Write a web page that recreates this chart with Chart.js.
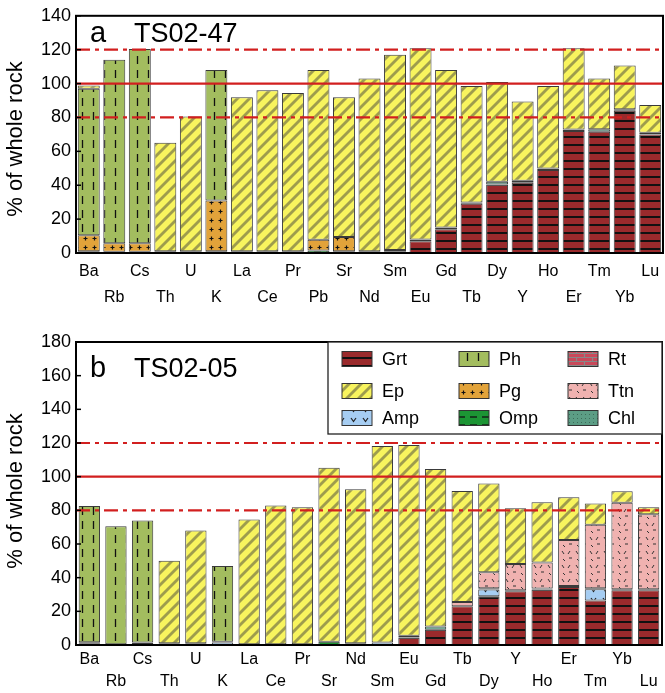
<!DOCTYPE html>
<html><head><meta charset="utf-8">
<script src="https://cdn.jsdelivr.net/npm/chart.js@4.4.1/dist/chart.umd.min.js"></script>
<style>
html,body{margin:0;padding:0;background:#fff;}
#wa{position:absolute;left:0;top:0;width:665px;height:310px;}
#wb{position:absolute;left:0;top:325px;width:665px;height:368px;}
</style></head><body>
<div id="wa"><canvas id="ca" width="665" height="310"></canvas></div>
<div id="wb"><canvas id="cb" width="665" height="368"></canvas></div>
<script>
// ---------- data ----------
const catsA = ['Ba','Rb','Cs','Th','U','K','La','Ce','Pr','Pb','Sr','Nd','Sm','Eu','Gd','Tb','Dy','Y','Ho','Er','Tm','Yb','Lu'];
const aGrt = [0,0,0,0,0,0,0,0,0,0,0,0,1,7,14,29,40.5,41.5,49,72,71.5,84,70];
const aOmp = [0,0,0,0,0,0,0,0,0,1.5,0,0,0,0,0,0,0,0,0,0,0,0,0];
const aAmp = [0,0,0,0,0,0,0,0,0,0,0,0,0,0,0,0,0,0,0,0,0,0,0];
const aChl = [1,0.8,0.8,1,1,1,1,1,1,0,1,1,0.8,1,1,0.8,1.5,1.2,0.8,0.9,1.5,0.9,1];
const aRt  = [0,0,0,0,0,0,0,0,0,0,0,0,0,0,0,0,0,0,0,0,0,0,0];
const aPg  = [9.5,5,5,0,0,30,0,0,0,6.3,8.4,0,0,0,0,0,0,0,0,0,0,0,0];
const aPh  = [86.4,108.2,114.6,0,0,77,0,0,0,0,0,0,0,0,0,0,0,0,0,0,0,0,0];
const aTtn = [0,0,0,0,0,0,0,0,0,0,0,0,0,0,0,0,0,0,0,0,0,0,0];
const aEp  = [1.9,0,0,64,79.6,0,91,95,93.5,100.2,82.6,102,115.2,112.8,93,68.8,59,46.7,48.8,47.9,30,25.7,16.3];

const catsB = ['Ba','Rb','Cs','Th','U','K','La','Ce','Pr','Sr','Nd','Sm','Eu','Gd','Tb','Dy','Y','Ho','Er','Tm','Yb','Lu'];
const bGrt = [0,0,0,0,0,0,0,0,0,0,0,0,4.5,9,23,29,32,33,34.5,26.5,32.5,32.5];
const bOmp = [1,0.5,0.5,1,1,0,0,0,0,2,0,0,0,0,0,0,0,0,0,0,0,0];
const bAmp = [0,0,0,0,0,1.5,0,0,0,0,0,1.5,0,0,0,4,0,0,0,6.6,0,0];
const bChl = [0.6,0,1,0,0,0.5,0.5,0.5,0.5,0,1,0,1,2,0,0.7,0.5,0.6,0.6,0.6,0.6,0.6];
const bRt  = [0,0,0,0,0,0,0,0,0,0,0,0,0,0,0,0,0,0,0,0,0,0];
const bPg  = [0,0,0,0,0,0,0,0,0,0,0,0,0,0,0,0,0,0,0,0,0,0];
const bPh  = [81,70,72.5,0,0,45,0,0,0,0,0,0,0,0,0,0,0,0,0,0,0,0];
const bTtn = [0,0,0,0,0,0,0,0,0,0,0,0,0,0,2.5,9.5,15.6,15.4,27.3,37.8,51.4,44.5];
const bEp  = [0,0,0,49,67,0,74,82.3,81.3,103.3,91.5,116.7,113.3,93.6,66,52.8,33.1,35.8,25.3,12.5,6.8,4.2];

const yTicksA = [0,20,40,60,80,100,120,140];
const yTicksB = [0,20,40,60,80,100,120,140,160,180];
const refLines = [120,100,80];
const legendOrder = ['Grt','Ph','Rt','Ep','Pg','Ttn','Amp','Omp','Chl'];
const yTitle = '% of whole rock';

// ---------- patterns ----------
function pat(w,h,bg,draw){
  const c=document.createElement('canvas'); c.width=w; c.height=h;
  const g=c.getContext('2d'); g.fillStyle=bg; g.fillRect(0,0,w,h);
  draw(g,w,h);
  return document.createElement('canvas').getContext('2d').createPattern(c,'repeat');
}
const P = {
  Grt: pat(8,8,'#9a2a2c',(g)=>{g.fillStyle='#111';g.fillRect(0,0,8,2);}),
  Ep: pat(12,12,'#f8f45e',(g)=>{g.strokeStyle='rgba(120,118,70,0.7)';g.lineWidth=2.8;
        [[-6,6,6,-6],[0,12,12,0],[6,18,18,6]].forEach(l=>{g.beginPath();g.moveTo(l[0],l[1]);g.lineTo(l[2],l[3]);g.stroke();});}),
  Ph: pat(11,14,'#a3bd5f',(g)=>{g.strokeStyle='#111';g.lineWidth=1.3;g.beginPath();g.moveTo(5.5,0);g.lineTo(5.5,8);g.stroke();}),
  Pg: pat(9,9,'#e2a33a',(g)=>{g.strokeStyle='#111';g.lineWidth=1.2;g.beginPath();g.moveTo(2.5,4.5);g.lineTo(6.5,4.5);g.moveTo(4.5,2.5);g.lineTo(4.5,6.5);g.stroke();}),
  Rt: pat(16,8,'#c9495a',(g)=>{g.strokeStyle='#888';g.lineWidth=1.2;g.beginPath();g.moveTo(0,0.5);g.lineTo(16,0.5);g.moveTo(0.5,0);g.lineTo(0.5,4);g.moveTo(8.5,4);g.lineTo(8.5,8);g.moveTo(0,4.5);g.lineTo(16,4.5);g.stroke();}),
  Ttn: pat(14,14,'#f0b2b0',(g)=>{g.strokeStyle='#333';g.lineWidth=1;g.beginPath();g.moveTo(2,2);g.lineTo(4,5);g.moveTo(9,9);g.lineTo(12,9);g.moveTo(10,2);g.lineTo(8,5);g.moveTo(3,10);g.lineTo(5,12);g.stroke();}),
  Amp: pat(12,10,'#a6cdf2',(g)=>{g.strokeStyle='#222';g.lineWidth=1.2;g.beginPath();g.moveTo(3,3);g.lineTo(5.5,6.5);g.lineTo(8,3);g.stroke();}),
  Omp: pat(12,8,'#1c9534',(g)=>{g.strokeStyle='#111';g.lineWidth=1.3;g.beginPath();g.moveTo(2,4);g.lineTo(9,4);g.stroke();}),
  Chl: pat(4,4,'#5c9d85',(g)=>{g.fillStyle='#3c6d5a';g.fillRect(1,1,1,1);})
};

const FAM='"Liberation Sans", Arial, sans-serif';

// ---------- plugin ----------
const framePlugin = {
  id:'frame',
  afterDatasetsDraw(chart, args, o){
    const {ctx, chartArea:a, scales:{y}} = chart;
    ctx.save();
    const dashes=[[14,5,4,5],[],[14,5,4,5]];
    refLines.forEach((v,i)=>{
      const py=y.getPixelForValue(v);
      ctx.beginPath(); ctx.strokeStyle='#d21f1f'; ctx.lineWidth=2.2; ctx.setLineDash(dashes[i]);
      ctx.moveTo(a.left,py); ctx.lineTo(a.right,py); ctx.stroke();
    });
    ctx.setLineDash([]);
    ctx.strokeStyle='#000'; ctx.lineWidth=1.5;
    y.ticks.forEach(t=>{const py=y.getPixelForValue(t.value); ctx.beginPath(); ctx.moveTo(a.left,py); ctx.lineTo(a.left+5,py); ctx.stroke();});
    ctx.lineWidth=2; ctx.strokeRect(a.left,a.top,a.right-a.left,a.bottom-a.top);
    ctx.fillStyle='#000'; ctx.textBaseline='alphabetic'; ctx.textAlign='left';
    ctx.font='29px '+FAM; ctx.fillText(o.letter, 90, o.base);
    ctx.font='27px '+FAM; ctx.fillText(o.name, 134, o.base);
    // y title
    ctx.save();
    ctx.translate(16, o.tc); ctx.rotate(-Math.PI/2);
    ctx.font='22px '+FAM; ctx.textAlign='center'; ctx.textBaseline='middle';
    ctx.fillText(yTitle,0,0);
    ctx.restore();
    if(o.legend){
      const lx=328, ly=a.top, lw=a.right-lx, lh=92;
      ctx.fillStyle='#fff'; ctx.fillRect(lx,ly,lw,lh);
      ctx.strokeStyle='#222'; ctx.lineWidth=1.3; ctx.strokeRect(lx,ly,lw,lh);
      const colX=[342,459,568], rowY=[ly+17,ly+49,ly+76];
      ctx.font='18px '+FAM; ctx.textBaseline='middle'; ctx.textAlign='left';
      legendOrder.forEach((m,i)=>{
        const cx=colX[i%3], cy=rowY[Math.floor(i/3)];
        ctx.fillStyle=P[m]; ctx.fillRect(cx,cy-7.5,30,15);
        ctx.strokeStyle='#333'; ctx.lineWidth=1; ctx.strokeRect(cx,cy-7.5,30,15);
        ctx.fillStyle='#000'; ctx.fillText(m, cx+40, cy+1);
      });
    }
    ctx.restore();
  }
};

function build(id, cats, series, cfg){
  const stackOrder=['Grt','Omp','Amp','Chl','Rt','Pg','Ph','Ttn','Ep'];
  const datasets = stackOrder.map(m=>({label:m,data:series[m],backgroundColor:P[m],borderColor:'#3a3a3a',borderWidth:1,borderSkipped:false,barPercentage:cfg.bp,categoryPercentage:1}));
  return new Chart(document.getElementById(id),{
    type:'bar',
    data:{labels:cats,datasets},
    options:{
      responsive:false, animation:false,
      layout:{padding:{top:cfg.top,right:cfg.right,left:0,bottom:0}},
      plugins:{legend:{display:false},tooltip:{enabled:false},
        frame:{letter:cfg.letter,name:cfg.name,base:cfg.base,legend:cfg.legend,tc:cfg.tc}},
      scales:{
        x:{stacked:true,offset:true,grid:{display:false,drawTicks:false},border:{display:false},
          ticks:{autoSkip:false,maxRotation:0,minRotation:0,padding:cfg.xpad,color:'#000',
            font:{family:FAM,size:16,lineHeight:cfg.lh},
            callback:function(v,i){const l=this.getLabelForValue(v);return i%2?['',l]:l;}},
          afterFit:(s)=>{s.height=cfg.xh;}},
        y:{stacked:true,min:0,max:cfg.max,grid:{display:false,drawTicks:false},border:{display:false},
          afterBuildTicks:(s)=>{s.ticks=cfg.yt.map(v=>({value:v}));},
          ticks:{padding:5,color:'#000',font:{family:FAM,size:18}},
          title:{display:false},
          afterFit:(s)=>{s.width=76;}}
      }
    },
    plugins:[framePlugin]
  });
}

build('ca', catsA, {Grt:aGrt,Omp:aOmp,Amp:aAmp,Chl:aChl,Rt:aRt,Pg:aPg,Ph:aPh,Ttn:aTtn,Ep:aEp},
  {top:15,right:2,xh:57,max:140,yt:yTicksA,bp:0.86,xpad:5,lh:1.65,letter:'a',name:'TS02-47',base:42,legend:false,tc:139});
build('cb', catsB, {Grt:bGrt,Omp:bOmp,Amp:bAmp,Chl:bChl,Rt:bRt,Pg:bPg,Ph:bPh,Ttn:bTtn,Ep:bEp},
  {top:17,right:3,xh:48,max:180,yt:yTicksB,bp:0.8,xpad:4,lh:1.375,letter:'b',name:'TS02-05',base:52,legend:true,tc:166});
</script>
</body></html>
